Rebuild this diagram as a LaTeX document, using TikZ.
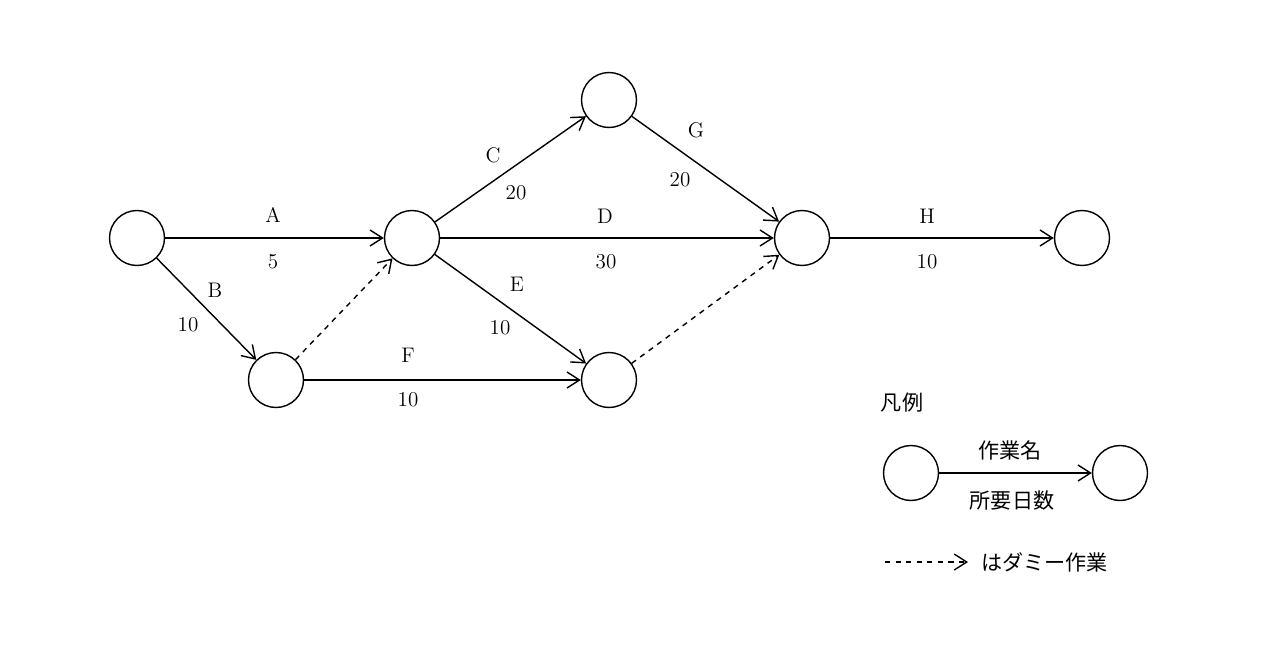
\documentclass[tikz,border=0pt]{standalone}
\usepackage{fontspec}
\newfontfamily\jpfont{Noto Sans CJK JP}
\usetikzlibrary{arrows.meta}
\begin{document}
\begin{tikzpicture}[x=0.02cm,y=-0.02cm,
    event/.style={circle,draw,thick,minimum size=1.1cm,inner sep=0pt},
    task/.style={draw,thick,-{Straight Barb[length=2.5mm,width=3.2mm]}},
    dummy/.style={task,dashed},
    lbl/.style={font=\large}]
    \useasboundingbox (0,0) rectangle (1280,660);

    % events
    \node[event] (n1) at (137,238) {};
    \node[event] (n2) at (412,238) {};
    \node[event] (n3) at (276,380) {};
    \node[event] (n4) at (609,100) {};
    \node[event] (n5) at (609,380) {};
    \node[event] (n6) at (802,238) {};
    \node[event] (n7) at (1082,238) {};

    % tasks
    \draw[task] (n1) -- (n2);
    \draw[task] (n1) -- (n3);
    \draw[task] (n2) -- (n4);
    \draw[task] (n2) -- (n6);
    \draw[task] (n2) -- (n5);
    \draw[task] (n3) -- (n5);
    \draw[task] (n4) -- (n6);
    \draw[task] (n6) -- (n7);
    \draw[dummy] (n3) -- (n2);
    \draw[dummy] (n5) -- (n6);

    % names and durations
    \foreach \x / \y / \t in {273/215/A, 273/262/5, 215/290/B, 188/325/10,
        493/155/C, 516/193/20, 605/216/D, 606/262/30, 517/284/E, 500/328/10,
        408/355/F, 408/400/10, 696/130/G, 680/180/20, 927/216/H, 927/262/10}
    {
        \node[lbl] at (\x,\y) {\t};
    }

    % legend
    \node[font=\jpfont\large] (legend) at (902,403) {凡例};
    \node[event] (l1) at (911,473) {};
    \node[event] (l2) at (1120,473) {};
    \draw[task] (l1) -- (l2);
    \node[font=\jpfont\large] (lname) at (1010,450) {作業名};
    \node[font=\jpfont\large] (ldays) at (1012,500) {所要日数};
    \coordinate (d1) at (885,562);
    \coordinate (d2) at (968,562);
    \draw[dummy] (d1) -- (d2);
    \node[font=\jpfont\large,anchor=west] (ldummy) at (975,562) {はダミー作業};
\end{tikzpicture}
\end{document}
